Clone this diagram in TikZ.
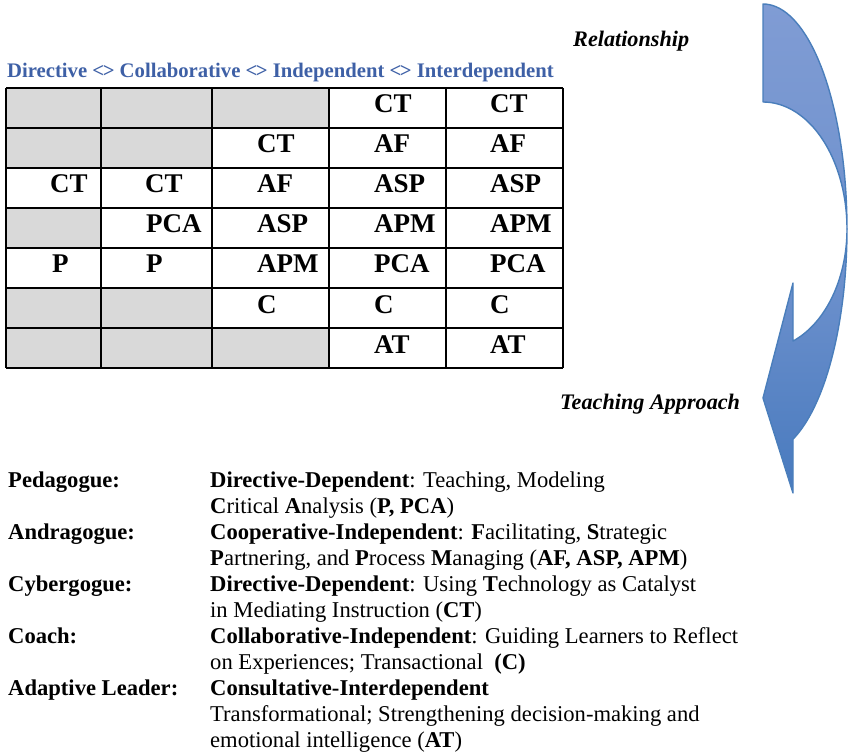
\documentclass[tikz,border=0pt]{standalone}
\usepackage{fontspec}
\setmainfont{Liberation Serif}
\definecolor{hdrblue}{RGB}{62,96,166}
\definecolor{cellgray}{RGB}{217,217,217}
\definecolor{arrowline}{RGB}{74,126,187}
\definecolor{arrowtop}{RGB}{128,156,212}
\definecolor{arrowbot}{RGB}{72,122,190}
\begin{document}
\begin{tikzpicture}[x=1pt,y=-1pt,
  cellt/.style={anchor=base west,inner sep=0pt,font=\fontsize{27}{30}\selectfont\bfseries},
  bodyt/.style={anchor=base west,inner sep=0pt,font=\fontsize{22.6}{26}\selectfont},
  labt/.style={anchor=base west,inner sep=0pt,font=\fontsize{22.6}{26}\selectfont\bfseries},
  axist/.style={anchor=base west,inner sep=0pt,font=\fontsize{22.2}{26}\selectfont\bfseries\itshape},
  gridline/.style={draw=black,line width=1.1pt},
  graycell/.style={fill=cellgray}]
\useasboundingbox (0,0) rectangle (852,754);
% gray cells
\fill[graycell] (6,88) rectangle (329,128);
\fill[graycell] (6,128) rectangle (212,168);
\fill[graycell] (6,208) rectangle (101,248);
\fill[graycell] (6,288) rectangle (212,328);
\fill[graycell] (6,328) rectangle (329,368);
% grid
\foreach \yy in {88,128,168,208,248,288,328,368} \draw[gridline] (6,\yy) -- (563,\yy);
\foreach \xx in {6,101,212,329,446,563} \draw[gridline] (\xx,88) -- (\xx,368);
% header
\node[anchor=base west,inner sep=0pt,font=\fontsize{20.7}{24}\selectfont\bfseries,text=hdrblue] (hdr) at (7,78) {Directive <\kern-1.5pt> Collaborative <\kern-1.5pt> Independent <\kern-1.5pt> Interdependent};
% cell texts
\node[cellt] (r1c4) at (374,113) {CT};
\node[cellt] (r1c5) at (490,113) {CT};
\node[cellt] (r2c3) at (257,153) {CT};
\node[cellt] (r2c4) at (374,153) {AF};
\node[cellt] (r2c5) at (490,153) {AF};
\node[cellt] (r3c1) at (50,193) {CT};
\node[cellt] (r3c2) at (145,193) {CT};
\node[cellt] (r3c3) at (257,193) {AF};
\node[cellt] (r3c4) at (374,193) {ASP};
\node[cellt] (r3c5) at (490,193) {ASP};
\node[cellt] (r4c2) at (146,233) {PCA};
\node[cellt] (r4c3) at (257,233) {ASP};
\node[cellt] (r4c4) at (374,233) {APM};
\node[cellt] (r4c5) at (490,233) {APM};
\node[cellt] (r5c1) at (52,273) {P};
\node[cellt] (r5c2) at (146,273) {P};
\node[cellt] (r5c3) at (257,273) {APM};
\node[cellt] (r5c4) at (374,273) {PCA};
\node[cellt] (r5c5) at (490,273) {PCA};
\node[cellt] (r6c3) at (257,313) {C};
\node[cellt] (r6c4) at (374,313) {C};
\node[cellt] (r6c5) at (490,313) {C};
\node[cellt] (r7c4) at (374,353) {AT};
\node[cellt] (r7c5) at (490,353) {AT};
% axis labels
\node[axist] (rel) at (573,47) {Relationship};
\node[axist] (teach) at (560,409) {Teaching Approach};
% curved arrow
\path[draw=arrowline,line width=1.4pt,line join=round,top color=arrowtop,bottom color=arrowtop!70!arrowbot]
  (763,4) -- plot[domain=0:90,variable=\t,samples=40] ({763+84*sin(\t)},{229-225*cos(\t)})
  -- plot[domain=90:0,variable=\t,samples=40] ({763+84*sin(\t)},{229-127*cos(\t)}) -- cycle;
\path[draw=arrowline,line width=1.4pt,line join=round,top color=arrowtop!80!arrowbot,bottom color=arrowbot]
  (847,229) -- plot[domain=90:159.08,variable=\t,samples=40] ({763+84*sin(\t)},{229-225*cos(\t)})
  -- (793,493) -- (763,398) -- (793,283)
  -- plot[domain=159.08:90,variable=\t,samples=40] ({763+84*sin(\t)},{229-120*cos(\t)}) -- cycle;
% bottom legend
\node[labt] (lab1) at (8,487) {Pedagogue:};
\node[bodyt] (t1) at (210,487) {\textbf{Directive-Dependent}: Teaching, Modeling};
\node[bodyt] (t2) at (210,513) {\textbf{C}ritical \textbf{A}nalysis (\textbf{P, PCA})};
\node[labt] (lab2) at (8,539) {Andragogue:};
\node[bodyt] (t3) at (210,539) {\textbf{Cooperative-Independent}: \textbf{F}acilitating, \textbf{S}trategic};
\node[bodyt] (t4) at (210,565) {\textbf{P}artnering, and \textbf{P}rocess \textbf{M}anaging (\textbf{AF, ASP, APM})};
\node[labt] (lab3) at (8,591) {Cybergogue:};
\node[bodyt] (t5) at (210,591) {\textbf{Directive-Dependent}: Using \textbf{T}echnology as Catalyst};
\node[bodyt] (t6) at (210,617) {in Mediating Instruction (\textbf{CT})};
\node[labt] (lab4) at (8,643) {Coach:};
\node[bodyt] (t7) at (210,643) {\textbf{Collaborative-Independent}: Guiding Learners to Reflect};
\node[bodyt] (t8) at (210,669) {on Experiences; Transactional\ \ \textbf{(C)}};
\node[labt] (lab5) at (8,695) {Adaptive Leader:};
\node[bodyt] (t9) at (210,695) {\textbf{Consultative-Interdependent}};
\node[bodyt] (t10) at (210,721) {Transformational; Strengthening decision-making and};
\node[bodyt] (t11) at (210,747) {emotional intelligence (\textbf{AT})};
\end{tikzpicture}
\end{document}
